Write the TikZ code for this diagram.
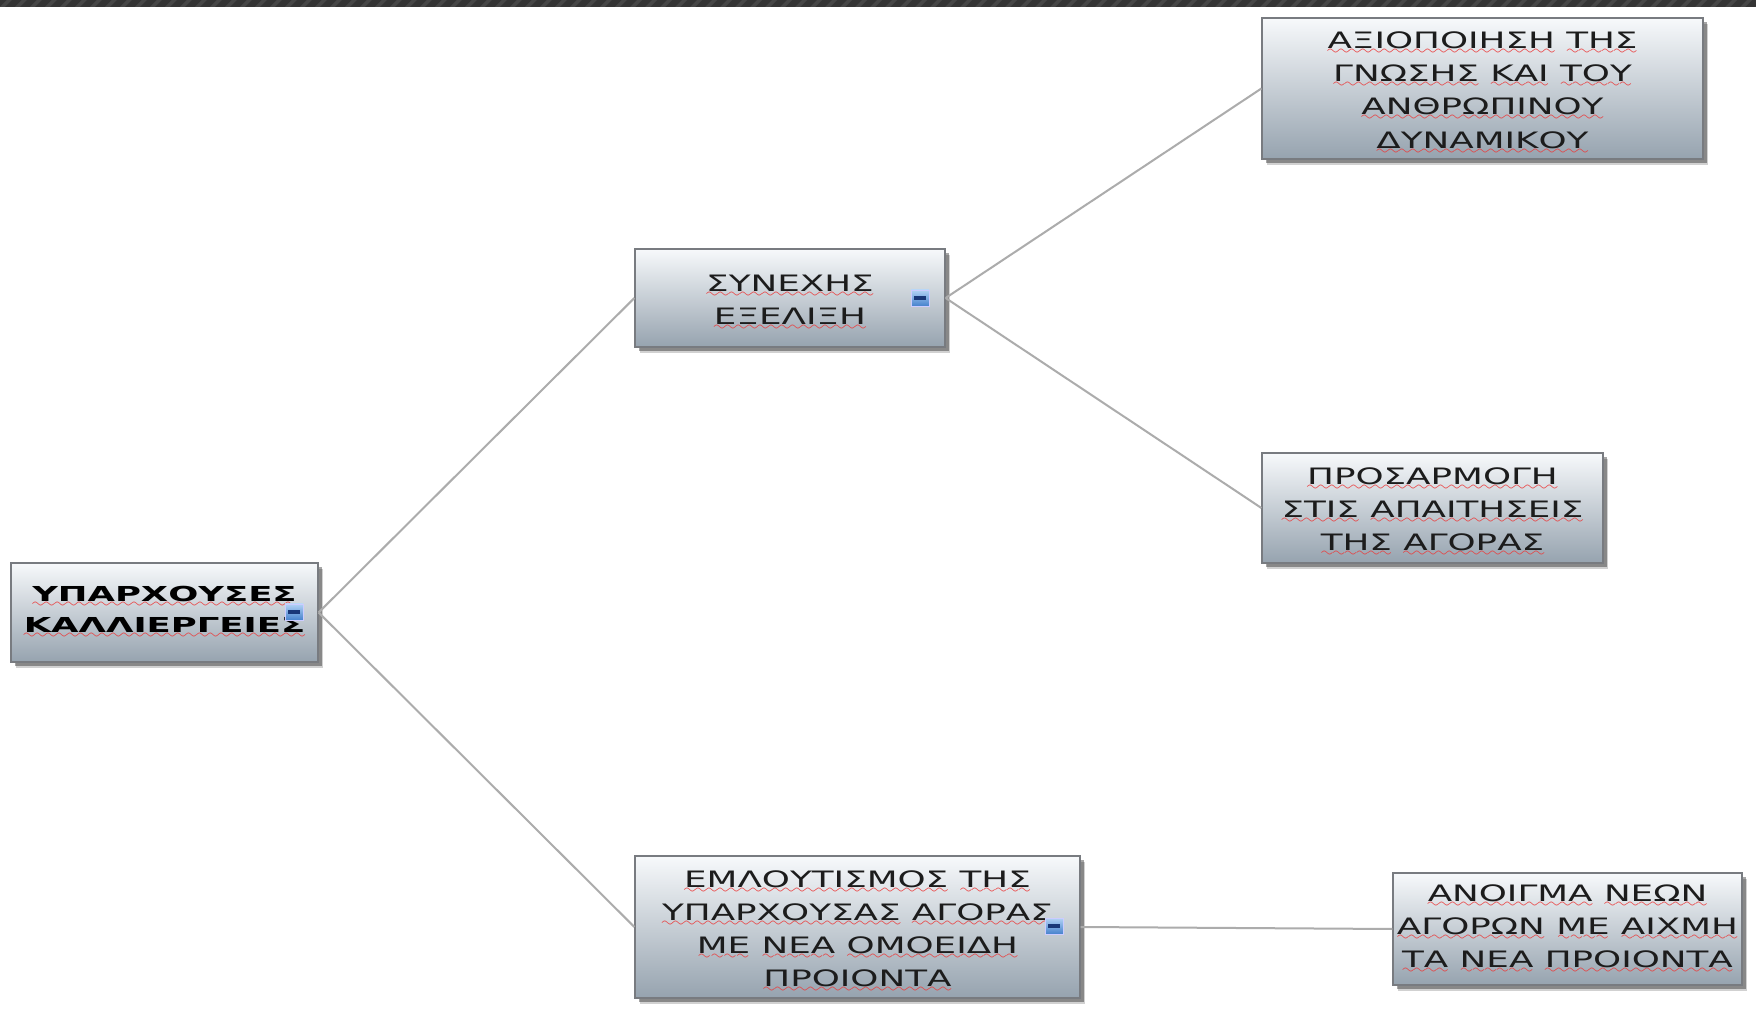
\documentclass[tikz,border=0pt]{standalone}
\usepackage{fontspec}
\setmainfont{DejaVu Sans}[FakeStretch=1.58, BoldFeatures={FakeStretch=1.72}]
\usetikzlibrary{shadows}
\font\wavef=lasy7
\definecolor{wavered}{RGB}{235,60,60}
\newcommand\rw[1]{\setbox0\hbox{#1}\rlap{\lower3pt\hbox to\wd0{\color{wavered}\xleaders\hbox{\wavef\char58}\hfil}}\box0\relax}
\newcommand\tstrut{\rule{0pt}{12.8pt}}
\definecolor{boxtop}{RGB}{247,249,251}
\definecolor{boxbot}{RGB}{150,163,175}
\definecolor{boxline}{RGB}{120,123,128}
\definecolor{linkgray}{RGB}{172,172,172}
\definecolor{txtgray}{RGB}{28,28,28}
\definecolor{bardark}{RGB}{52,52,52}
\definecolor{barlight}{RGB}{70,70,70}
\definecolor{icontop}{RGB}{178,210,245}
\definecolor{iconbot}{RGB}{70,130,205}
\definecolor{icondash}{RGB}{25,55,120}
\tikzset{
  mapbox/.style={rectangle, draw=boxline, line width=0.6pt, shading=axis,
    top color=boxtop, bottom color=boxbot, align=center, inner sep=0pt,
    text=txtgray, font=\fontsize{11.3}{16.6}\selectfont,
    drop shadow={shadow xshift=2.6pt, shadow yshift=-3pt, fill=black, opacity=0.18},
    drop shadow={shadow xshift=1.8pt, shadow yshift=-2.2pt, fill=black, opacity=0.35}},
  rootbox/.style={mapbox, text=black, font=\fontsize{10.3}{15.5}\selectfont\bfseries},
  link/.style={draw=linkgray, line width=1pt},
  icon/.style={rectangle, draw=white!80!blue, line width=0.4pt, shading=axis,
    top color=icontop, bottom color=iconbot, minimum width=9pt, minimum height=8pt,
    inner sep=0pt,
    path picture={\fill[icondash] ([xshift=-3pt,yshift=-0.8pt]path picture bounding box.center)
      rectangle ([xshift=3pt,yshift=0.8pt]path picture bounding box.center);}}
}
\begin{document}
\begin{tikzpicture}[x=0.5pt,y=-0.5pt]
\useasboundingbox (0,0) rectangle (1756,1015);
\fill[white] (0,0) rectangle (1756,1015);
% top bar
\fill[bardark] (0,0) rectangle (1756,7);
\foreach \s in {0,15,...,1755}{
  \fill[barlight] (\s,7) -- (\s+5,7) -- (\s+12,0) -- (\s+7,0) -- cycle;
}
% nodes
\node[rootbox, minimum width=153.5pt, minimum height=49.5pt] (A) at (164.5,612.5)
  {\rw{ΥΠΑΡΧΟΥΣΕΣ}\\\rw{ΚΑΛΛΙΕΡΓΕΙΕΣ}};
\node[mapbox, minimum width=155pt, minimum height=49pt] (B) at (790,298)
  {\tstrut\rw{ΣΥΝΕΧΗΣ}\\\rw{ΕΞΕΛΙΞΗ}};
\node[mapbox, minimum width=220.5pt, minimum height=70.5pt] (C) at (1482.5,88.5)
  {\tstrut\rw{ΑΞΙΟΠΟΙΗΣΗ} \rw{ΤΗΣ}\\\rw{ΓΝΩΣΗΣ} \rw{ΚΑΙ} \rw{ΤΟΥ}\\\rw{ΑΝΘΡΩΠΙΝΟΥ}\\\rw{ΔΥΝΑΜΙΚΟΥ}};
\node[mapbox, minimum width=170.5pt, minimum height=55pt] (D) at (1432.5,508)
  {\tstrut\rw{ΠΡΟΣΑΡΜΟΓΗ}\\\rw{ΣΤΙΣ} \rw{ΑΠΑΙΤΗΣΕΙΣ}\\\rw{ΤΗΣ} \rw{ΑΓΟΡΑΣ}};
\node[mapbox, minimum width=222.5pt, minimum height=71pt] (E) at (857.5,927)
  {\tstrut\rw{ΕΜΛΟΥΤΙΣΜΟΣ} \rw{ΤΗΣ}\\\rw{ΥΠΑΡΧΟΥΣΑΣ} \rw{ΑΓΟΡΑΣ}\\\rw{ΜΕ} \rw{ΝΕΑ} \rw{ΟΜΟΕΙΔΗ}\\\rw{ΠΡΟΙΟΝΤΑ}};
\node[mapbox, minimum width=174.5pt, minimum height=56pt] (F) at (1567.5,929)
  {\rw{ΑΝΟΙΓΜΑ} \rw{ΝΕΩΝ}\\\rw{ΑΓΟΡΩΝ} \rw{ΜΕ} \rw{ΑΙΧΜΗ}\\\rw{ΤΑ} \rw{ΝΕΑ} \rw{ΠΡΟΙΟΝΤΑ}};
% collapse icons
\node[icon] (iA) at (294,612) {};
\node[icon] (iB) at (920,298) {};
\node[icon] (iE) at (1054,926) {};
% connectors
\draw[link] (A.east) -- (B.west);
\draw[link] (A.east) -- (E.west);
\draw[link] (B.east) -- (C.west);
\draw[link] (B.east) -- (D.west);
\draw[link] (E.east) -- (F.west);
\end{tikzpicture}
\end{document}
